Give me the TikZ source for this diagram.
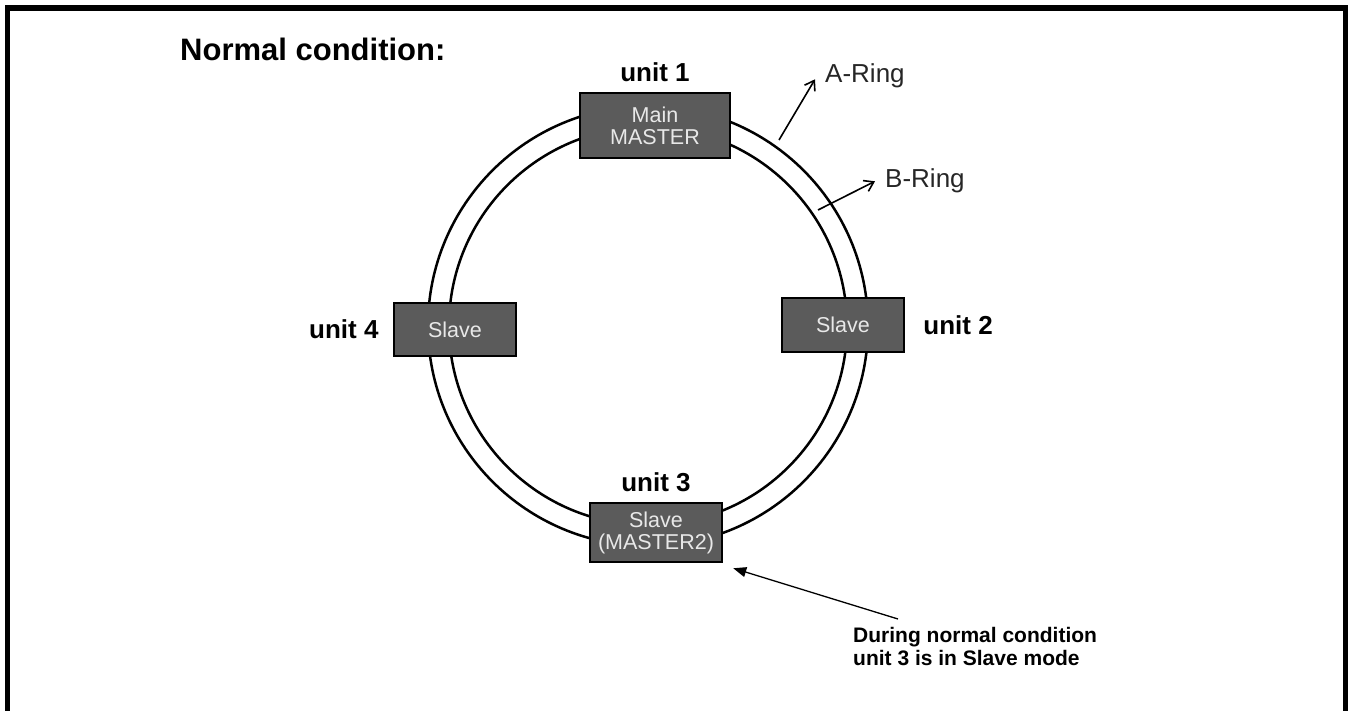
\documentclass[tikz,border=0pt]{standalone}
\usepackage{fontspec}
\setmainfont{Liberation Sans}
\usetikzlibrary{arrows.meta, positioning}
\definecolor{boxgray}{HTML}{5B5B5B}
\definecolor{boxtext}{HTML}{E8E8E8}

\begin{document}
\begin{tikzpicture}[x=1pt, y=-1pt,
        unitbox/.style={rectangle, draw=black, line width=2.5pt, fill=boxgray, text=boxtext, align=center, inner sep=0pt, font=\fontsize{21.5}{22}\selectfont},
        unitlabel/.style={inner sep=2pt, font=\bfseries\fontsize{26}{26}\selectfont},
        ringlabel/.style={anchor=base west, inner sep=0pt, text=black!85, font=\fontsize{26}{26}\selectfont},
        ringline/.style={line width=2.5pt},
        pointer/.style={line width=1.6pt, -{Straight Barb[length=9pt, width=12pt, line width=1.6pt]}}]
        \useasboundingbox (0,0) rectangle (1348,711);

        % Frame
        \draw[line width=5.5pt] (7.5,711) -- (7.5,8) -- (1345.5,8) -- (1345.5,711);

        % Rings
        \draw[ringline] (648,326) circle[radius=220pt];
        \draw[ringline] (648,326) circle[radius=199pt];
        \coordinate (astart) at (779,140);
        \coordinate (bstart) at (818,210);

        % Nodes
        \node[unitbox, minimum width=150pt, minimum height=65pt] (u1) at (655,125.5) {Main\\MASTER};
        \node[unitbox, minimum width=122pt, minimum height=54pt] (u2) at (843,325) {Slave};
        \node[unitbox, minimum width=132pt, minimum height=59pt] (u3) at (656,532.5) {Slave\\(MASTER2)};
        \node[unitbox, minimum width=122pt, minimum height=53pt] (u4) at (455,329.5) {Slave};

        \node[unitlabel, above=8pt of u1] (l1) {unit 1};
        \node[unitlabel, right=16pt of u2] (l2) {unit 2};
        \node[unitlabel, above=8pt of u3] (l3) {unit 3};
        \node[unitlabel, left=12pt of u4] (l4) {unit 4};

        \node[anchor=base west, inner sep=0pt, font=\bfseries\fontsize{31}{31}\selectfont] (title) at (180,61) {Normal condition:};
        \node[ringlabel] (aring) at (825,83) {A-Ring};
        \node[ringlabel] (bring) at (885,188) {B-Ring};
        \node[anchor=north west, align=left, inner sep=0pt, font=\bfseries\fontsize{21}{23}\selectfont] (note) at (853,627) {During normal condition\\unit 3 is in Slave mode};

        % Lines
        \draw[pointer] (astart) -- ([shift={(-10pt,-3pt)}]aring.west);
        \draw[pointer] (bstart) -- ([xshift=-10pt]bring.west);
        \draw[line width=1.3pt, -{Triangle[length=13pt, width=10pt]}] ([shift={(45pt,8pt)}]note.north west) -- ([shift={(10pt,-5pt)}]u3.south east);
    \end{tikzpicture}
\end{document}
